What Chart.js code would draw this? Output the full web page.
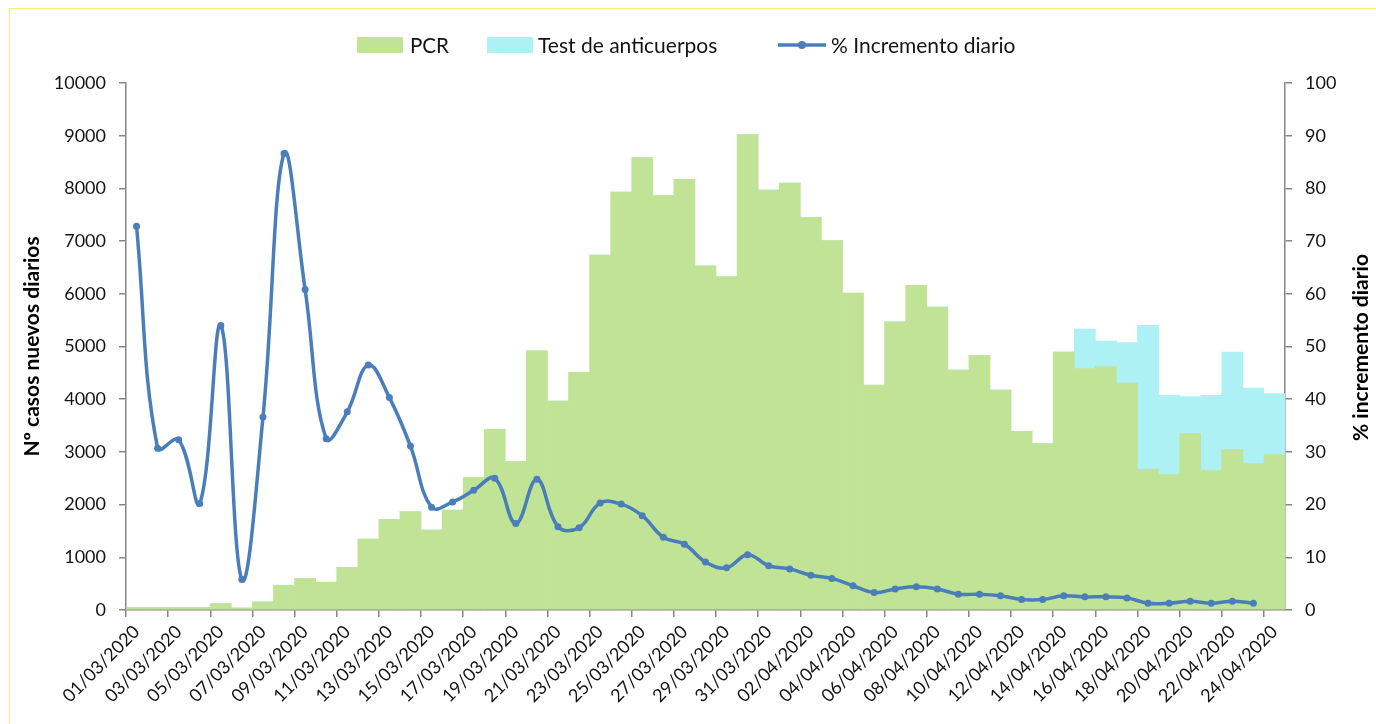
<!DOCTYPE html>
<html>
<head>
<meta charset="utf-8">
<script src="https://cdn.jsdelivr.net/npm/chart.js@4.4.1/dist/chart.umd.min.js"></script>
<style>
  html, body { margin: 0; padding: 0; background: #fff; overflow: hidden; }
  #wrap { position: relative; width: 1376px; height: 724px; }
  #frame { position: absolute; left: 9px; top: 8px; width: 1500px; height: 900px; border: 1px solid #f4f46c; }
  #c { position: absolute; left: 0; top: 0; }
</style>
</head>
<body>
<div id="wrap"><div id="frame"></div><canvas id="c" width="1376" height="724"></canvas></div>
<script>
/* ===== DATA ===== */
const DATES = [
  '01/03/2020','02/03/2020','03/03/2020','04/03/2020','05/03/2020','06/03/2020','07/03/2020','08/03/2020',
  '09/03/2020','10/03/2020','11/03/2020','12/03/2020','13/03/2020','14/03/2020','15/03/2020','16/03/2020',
  '17/03/2020','18/03/2020','19/03/2020','20/03/2020','21/03/2020','22/03/2020','23/03/2020','24/03/2020',
  '25/03/2020','26/03/2020','27/03/2020','28/03/2020','29/03/2020','30/03/2020','31/03/2020','01/04/2020',
  '02/04/2020','03/04/2020','04/04/2020','05/04/2020','06/04/2020','07/04/2020','08/04/2020','09/04/2020',
  '10/04/2020','11/04/2020','12/04/2020','13/04/2020','14/04/2020','15/04/2020','16/04/2020','17/04/2020',
  '18/04/2020','19/04/2020','20/04/2020','21/04/2020','22/04/2020','23/04/2020','24/04/2020'
];

// new daily cases by PCR
const PCR = [
  50, 50, 50, 50, 120, 40, 155, 470, 598, 528, 808,
  1347, 1719, 1867, 1518, 1896, 2512, 3430, 2814,
  4920, 3966, 4510, 6733, 7932, 8585, 7865, 8173,
  6530, 6326, 9023, 7970, 8100, 7453, 7008, 6013,
  4266, 5470, 6161, 5750, 4554, 4826, 4175, 3391,
  3156, 4896, 4580, 4617, 4307, 2669, 2568, 3346,
  2644, 3042, 2776, 2947
];

// new daily cases by antibody test (only from 15/04)
const ANTICUERPOS = [
  0, 0, 0, 0, 0, 0, 0, 0, 0, 0, 0,
  0, 0, 0, 0, 0, 0, 0, 0,
  0, 0, 0, 0, 0, 0, 0, 0,
  0, 0, 0, 0, 0, 0, 0, 0,
  0, 0, 0, 0, 0, 0, 0, 0,
  0, 0, 752, 487, 766, 2733, 1505, 702,
  1429, 1854, 1436, 1158
];

// % daily increase (right axis)
const INCREMENTO = [
  72.8, 30.7, 32.3, 20.2, 54.0, 5.8, 36.6, 86.6, 60.8, 32.5, 37.6,
  46.5, 40.3, 31.1, 19.5, 20.5, 22.7, 25.0, 16.4,
  24.8, 15.8, 15.6, 20.3, 20.1, 17.9, 13.8, 12.5,
  9.1, 8.0, 10.5, 8.4, 7.8, 6.6, 6.0, 4.6,
  3.3, 4.0, 4.4, 4.0, 3.0, 3.0, 2.7, 2.0,
  2.0, 2.7, 2.5, 2.5, 2.3, 1.3, 1.3, 1.65,
  1.3, 1.65, 1.3, null
];

const LEFT_TICKS_STEP = 1000;
const RIGHT_TICKS_STEP = 10;
const RIGHT_TITLE = '% incremento diario';

/* ===== STYLE ===== */
const GREEN = '#c0e395';
const CYAN  = '#aef1f4';
const BLUE  = '#4a7ebb';
const AXIS  = '#868686';
const TXT   = '#141414';
const FONT  = 'Lato, "Open Sans", sans-serif';

// legend + right axis title drawn by hand so they sit where the original ones do
const extrasPlugin = {
  id: 'extras',
  afterDraw(chart) {
    const ctx = chart.ctx;
    const y = 45;
    ctx.save();
    ctx.font = '21px ' + FONT;
    ctx.textBaseline = 'middle';
    ctx.textAlign = 'left';
    const ds = chart.data.datasets;
    // PCR
    ctx.fillStyle = ds[0].backgroundColor;
    ctx.fillRect(357, 37, 46, 16);
    ctx.fillStyle = TXT;
    ctx.fillText(ds[0].label, 410, y + 1, 39);
    // anticuerpos
    ctx.fillStyle = ds[1].backgroundColor;
    ctx.fillRect(487, 37, 46, 16);
    ctx.fillStyle = TXT;
    ctx.fillText(ds[1].label, 538, y + 1, 201);
    // line
    ctx.strokeStyle = ds[2].borderColor;
    ctx.lineWidth = 3.5;
    ctx.beginPath(); ctx.moveTo(778, y); ctx.lineTo(826, y); ctx.stroke();
    ctx.fillStyle = ds[2].borderColor;
    ctx.beginPath(); ctx.arc(802, y, 4, 0, Math.PI * 2); ctx.fill();
    ctx.fillStyle = TXT;
    ctx.fillText(ds[2].label, 831, y + 1, 208);

    // right title, reading bottom to top like Excel does
    const a = chart.chartArea;
    ctx.translate(1361, (a.top + a.bottom) / 2 + 1);
    ctx.rotate(-Math.PI / 2);
    ctx.font = 'bold 21px ' + FONT;
    ctx.fillStyle = '#000';
    ctx.textAlign = 'center';
    ctx.fillText(RIGHT_TITLE, 0, 0);
    ctx.restore();
  }
};

const tickFont = { family: FONT, size: 18 };
const titleFont = { family: FONT, size: 21, weight: 'bold' };

new Chart(document.getElementById('c'), {
  data: {
    labels: DATES,
    datasets: [
      { type: 'bar', label: 'PCR', data: PCR, backgroundColor: GREEN, yAxisID: 'y', stack: 's',
        barPercentage: 1, categoryPercentage: 1, borderWidth: 0, order: 1 },
      { type: 'bar', label: 'Test de anticuerpos', data: ANTICUERPOS, backgroundColor: CYAN, yAxisID: 'y', stack: 's',
        barPercentage: 1, categoryPercentage: 1, borderWidth: 0, order: 1 },
      { type: 'line', label: '% Incremento diario', data: INCREMENTO, yAxisID: 'y1',
        borderColor: BLUE, backgroundColor: BLUE, borderWidth: 3.5, tension: 0.4,
        pointRadius: 3.5, pointBackgroundColor: BLUE, pointBorderWidth: 0, order: 0 }
    ]
  },
  options: {
    responsive: false,
    animation: false,
    layout: { padding: { top: 83, left: 0, right: 0, bottom: 0 } },
    plugins: { legend: { display: false }, tooltip: { enabled: false } },
    scales: {
      x: {
        stacked: true,
        offset: true,
        grid: {
          offset: true, drawOnChartArea: false, tickLength: 7, lineWidth: 1.5,
          color: c => (c.index % 2 === 0 ? AXIS : 'rgba(0,0,0,0)')
        },
        border: { color: AXIS, width: 1.5 },
        ticks: {
          autoSkip: false, maxRotation: 45, minRotation: 45, padding: 4,
          font: tickFont, color: TXT,
          callback: (v, i) => (i % 2 === 0 ? DATES[i] : '')
        },
        afterFit: s => { s.height = 114; }
      },
      y: {
        position: 'left',
        stacked: true,
        min: 0, max: 10000,
        ticks: { stepSize: LEFT_TICKS_STEP, padding: 13, font: tickFont, color: TXT, callback: v => String(v) },
        grid: { drawOnChartArea: false, tickLength: 7, lineWidth: 1.5, color: AXIS },
        border: { color: AXIS, width: 1.5 },
        title: { display: true, text: 'Nº casos nuevos diarios', font: titleFont, color: '#000', padding: { top: 20, bottom: 0 } },
        afterFit: s => { s.width = 126; }
      },
      y1: {
        position: 'right',
        min: 0, max: 100,
        ticks: { stepSize: RIGHT_TICKS_STEP, padding: 13, font: tickFont, color: TXT, callback: v => String(v) },
        grid: { drawOnChartArea: false, tickLength: 7, lineWidth: 1.5, color: AXIS },
        border: { color: AXIS, width: 1.5 },
        afterFit: s => { s.width = 1376 - 1285; }
      }
    }
  },
  plugins: [extrasPlugin]
});
</script>
</body>
</html>
